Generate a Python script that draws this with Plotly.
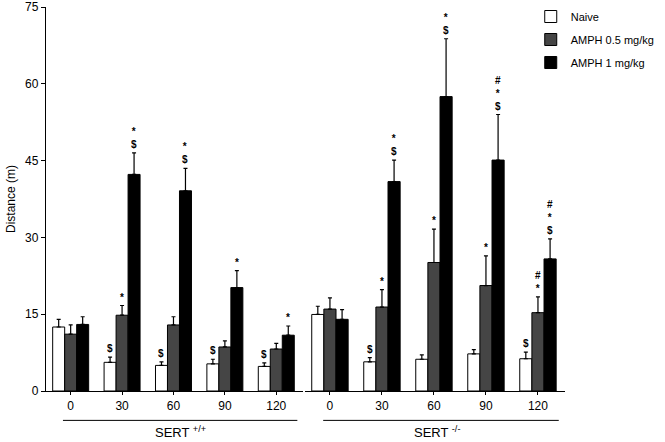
import plotly.graph_objects as go

timepoints = ["0", "30", "60", "90", "120"]
groups = ["SERT <sup>+/+</sup>", "SERT <sup>-/-</sup>"]
series_names = ["Naive", "AMPH 0.5 mg/kg", "AMPH 1 mg/kg"]
series_colors = ["#ffffff", "#454545", "#000000"]

# SERT +/+
wt_naive = [12.5, 5.6, 5.0, 5.3, 4.8]
wt_naive_err = [1.5, 1.0, 0.7, 0.9, 0.7]
wt_amph05 = [11.1, 14.8, 12.9, 8.6, 8.2]
wt_amph05_err = [1.8, 1.9, 1.6, 1.2, 1.1]
wt_amph1 = [13.0, 42.3, 39.1, 20.2, 10.9]
wt_amph1_err = [1.5, 4.2, 4.4, 3.3, 1.8]

# SERT -/-
ko_naive = [14.95, 5.7, 6.2, 7.25, 6.3]
ko_naive_err = [1.6, 0.8, 0.85, 0.85, 1.3]
ko_amph05 = [16.0, 16.4, 25.1, 20.6, 15.3]
ko_amph05_err = [2.2, 3.4, 6.5, 5.8, 3.1]
ko_amph1 = [14.0, 40.9, 57.5, 45.1, 25.8]
ko_amph1_err = [1.9, 4.2, 11.3, 8.9, 3.9]

# significance markers (top to bottom)
wt_naive_sig = ["", "$", "$", "$", "$"]
wt_amph05_sig = ["", "*", "", "", ""]
wt_amph1_sig = ["", "*<br>$", "*<br>$", "*", "*"]
ko_naive_sig = ["", "$", "", "", "$"]
ko_amph05_sig = ["", "*", "*", "*", "#<br>*"]
ko_amph1_sig = ["", "*<br>$", "*<br>$", "#<br>*<br>$", "#<br>*<br>$"]

y_ticks = [0, 15, 30, 45, 60, 75]

FONT = "Liberation Sans, Arial, sans-serif"
xpos = list(range(len(timepoints)))

fig = go.Figure()

group_data = [
    ("x", [(wt_naive, wt_naive_err, wt_naive_sig),
           (wt_amph05, wt_amph05_err, wt_amph05_sig),
           (wt_amph1, wt_amph1_err, wt_amph1_sig)]),
    ("x2", [(ko_naive, ko_naive_err, ko_naive_sig),
            (ko_amph05, ko_amph05_err, ko_amph05_sig),
            (ko_amph1, ko_amph1_err, ko_amph1_sig)]),
]

bargap = 0.3
bw = (1 - bargap) / 3
annotations = []
for gi, (xa, sers) in enumerate(group_data):
    for si, (vals, errs, sigs) in enumerate(sers):
        fig.add_trace(go.Bar(
            x=xpos, y=vals, name=series_names[si],
            marker=dict(color=series_colors[si], line=dict(color="#000000", width=1)),
            error_y=dict(type="data", array=errs, arrayminus=[0] * len(errs),
                         symmetric=False, color="#000000", thickness=1.2, width=2),
            xaxis=xa, yaxis="y", showlegend=(gi == 0), legendgroup=series_names[si],
            offsetgroup=str(si),
        ))
        off = (si - 1) * bw
        for i, s in enumerate(sigs):
            if s:
                annotations.append(dict(
                    x=xpos[i] + off, y=vals[i] + errs[i], xref=xa, yref="y",
                    text="<b>" + s + "</b>", showarrow=False, yanchor="bottom",
                    xanchor="center", yshift=1,
                    font=dict(family=FONT, size=10, color="#000000"),
                ))

# group underline labels
for gi, xa in enumerate(["x", "x2"]):
    annotations.append(dict(
        x=2 + (0.13 if gi == 0 else 0.05), y=-0.108, xref=xa, yref="paper",
        text=groups[gi], showarrow=False, yanchor="middle", xanchor="center",
        font=dict(family=FONT, size=13, color="#000000"),
    ))

shapes = [
    dict(type="line", xref="x", yref="paper", x0=-0.15, x1=4.41, y0=-0.0765, y1=-0.0765,
         line=dict(color="#000000", width=1)),
    dict(type="line", xref="x2", yref="paper", x0=-0.13, x1=4.4, y0=-0.0765, y1=-0.0765,
         line=dict(color="#000000", width=1)),
]

axis_common = dict(
    tickmode="array", tickvals=xpos, ticktext=timepoints, range=[-0.48, 4.52],
    showline=True, linecolor="#000000", linewidth=1.3, ticks="outside", ticklen=3,
    tickcolor="#000000", showgrid=False, zeroline=False, automargin=False,
    tickfont=dict(family=FONT, size=12, color="#000000"),
)

fig.update_layout(
    width=665, height=442,
    margin=dict(l=46, r=100, t=7, b=51, pad=0, autoexpand=False),
    paper_bgcolor="#ffffff", plot_bgcolor="#ffffff",
    barmode="group", bargap=bargap, bargroupgap=0,
    xaxis=dict(domain=[0, 0.4952], anchor="y", **axis_common),
    xaxis2=dict(domain=[0.499, 1], anchor="y", **axis_common),
    yaxis=dict(range=[0, 75], tickvals=y_ticks, showline=True, linecolor="#000000",
               linewidth=1.3, ticks="outside", ticklen=4, tickcolor="#000000",
               showgrid=False, zeroline=False, anchor="x", automargin=False,
               ticklabeloverflow="allow",
               title=dict(text="Distance (m)", font=dict(family=FONT, size=12, color="#000000"),
                          standoff=6),
               tickfont=dict(family=FONT, size=12, color="#000000")),
    legend=dict(x=0.934, y=1.013, xanchor="left", yanchor="top",
                font=dict(family=FONT, size=11, color="#000000"),
                bgcolor="rgba(0,0,0,0)", tracegroupgap=4, itemwidth=30),
    annotations=annotations,
    shapes=shapes,
    showlegend=True,
)

fig.write_html("out.html", config={"displayModeBar": False},
               post_script="document.body.style.margin='0';")
